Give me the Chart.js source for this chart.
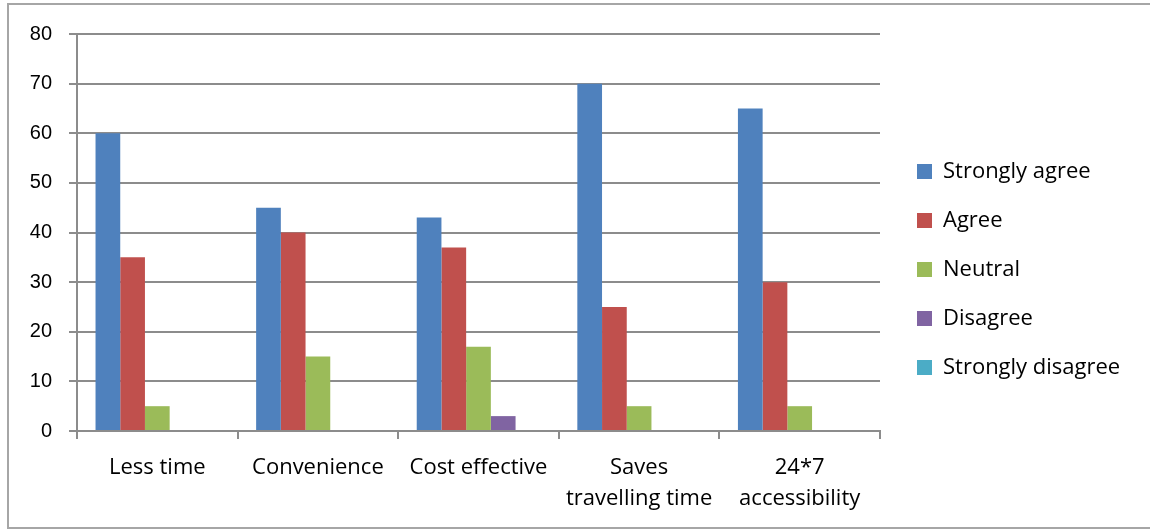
<!DOCTYPE html>
<html>
<head>
<meta charset="utf-8">
<script src="https://cdn.jsdelivr.net/npm/chart.js@4/dist/chart.umd.min.js"></script>
<style>
  html, body { margin: 0; padding: 0; background: #fff; overflow: hidden; }
  #wrap { position: relative; width: 1150px; height: 529px; }
  #frame { position: absolute; left: 7px; top: 3px; width: 1200px; height: 522px; border: 2px solid #a6a6a6; pointer-events: none; }
  canvas { position: absolute; left: 0; top: 0; }
</style>
</head>
<body>
<div id="wrap">
  <canvas id="c" width="1150" height="529"></canvas>
  <div id="frame"></div>
</div>
<script>
const categories = ['Less time', 'Convenience', 'Cost effective', ['Saves', 'travelling time'], ['24*7', 'accessibility']];
const seriesNames = ['Strongly agree', 'Agree', 'Neutral', 'Disagree', 'Strongly disagree'];
const stronglyAgree = [60, 45, 43, 70, 65];
const agree = [35, 40, 37, 25, 30];
const neutral = [5, 15, 17, 5, 5];
const disagree = [0, 0, 3, 0, 0];
const stronglyDisagree = [0, 0, 0, 0, 0];
const seriesColors = ['#4F81BD', '#C0504D', '#9BBB59', '#8064A2', '#4BACC6'];
const yTicks = [0, 10, 20, 30, 40, 50, 60, 70, 80];

const seriesValues = [stronglyAgree, agree, neutral, disagree, stronglyDisagree];
const gridColor = '#8c8c8c';
const labelFont = '"Open Sans", Calibri, sans-serif';

const legendTweak = {
  id: 'legendTweak',
  beforeInit(chart) {
    const lg = chart.legend;
    if (lg) {
      const orig = lg.fit;
      lg.fit = function() { orig.call(this); this.width = 270; };
    }
  },
  afterLayout(chart) {
    const lg = chart.legend;
    if (lg) {
      lg.left += 10; lg.right += 10;
      lg.top -= 12; lg.bottom -= 12;
    }
  }
};

new Chart(document.getElementById('c'), {
  type: 'bar',
  data: {
    labels: categories,
    datasets: seriesNames.map((name, i) => ({
      label: name,
      data: seriesValues[i],
      backgroundColor: seriesColors[i],
      borderWidth: 0,
      categoryPercentage: 5 / 6.5,
      barPercentage: 1.0
    }))
  },
  options: {
    responsive: false,
    animation: false,
    devicePixelRatio: 1,
    layout: { padding: { left: 10, top: 34, right: 0, bottom: 0 } },
    plugins: {
      tooltip: { enabled: false },
      legend: {
        position: 'right',
        align: 'center',
        labels: {
          boxWidth: 15,
          boxHeight: 15,
          padding: 27,
          color: '#000',
          font: { family: labelFont, size: 22 }
        }
      }
    },
    scales: {
      x: {
        afterFit(scale) { scale.height = 98; },
        grid: {
          offset: true,
          drawOnChartArea: false,
          drawTicks: true,
          tickLength: 8,
          color: gridColor,
          lineWidth: 2
        },
        border: { display: true, color: gridColor, width: 2 },
        ticks: {
          padding: 13,
          color: '#000',
          maxRotation: 0,
          autoSkip: false,
          font: { family: labelFont, size: 22, lineHeight: 1.41 }
        }
      },
      y: {
        min: 0,
        max: 80,
        afterFit(scale) { scale.width = 67; },
        afterBuildTicks(scale) { scale.ticks = yTicks.map(v => ({ value: v })); },
        grid: {
          color: gridColor,
          lineWidth: 2,
          tickLength: 8,
          drawTicks: true
        },
        border: { display: true, color: gridColor, width: 2 },
        ticks: {
          stepSize: 10,
          padding: 17,
          color: '#000',
          font: { family: '"Liberation Sans", Arial, sans-serif', size: 20 }
        }
      }
    }
  },
  plugins: [legendTweak]
});
</script>
</body>
</html>
